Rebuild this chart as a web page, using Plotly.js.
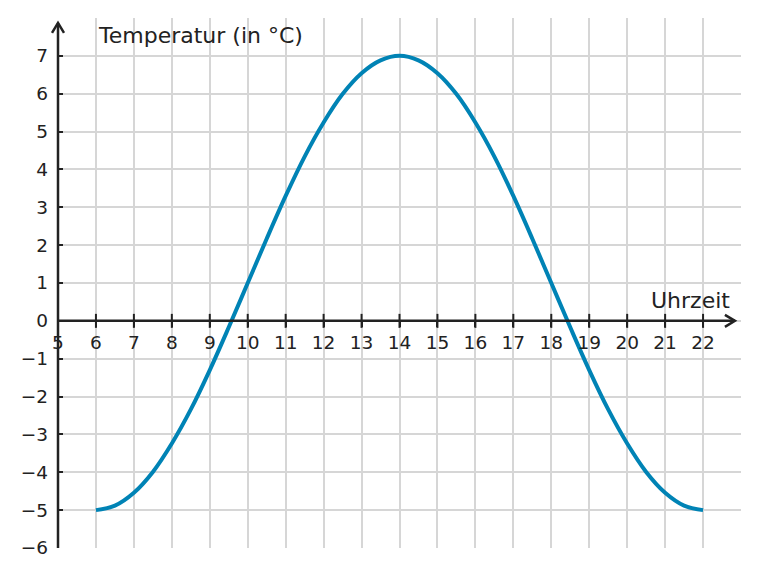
<!DOCTYPE html>
<html>
<head>
<meta charset="utf-8">
<script src="https://cdn.plot.ly/plotly-3.0.1.min.js"></script>
<style>html,body{margin:0;padding:0;background:#fff;}</style>
</head>
<body>
<div id="chart" style="width:759px;height:577px;"></div>
<script>
// Data
const hours = [6, 6.5, 7, 7.5, 8, 8.5, 9, 9.5, 10, 10.5, 11, 11.5, 12, 12.5, 13, 13.5, 14,
               14.5, 15, 15.5, 16, 16.5, 17, 17.5, 18, 18.5, 19, 19.5, 20, 20.5, 21, 21.5, 22];
const temps = [-5, -4.88, -4.54, -3.99, -3.24, -2.34, -1.3, -0.17, 1, 2.17, 3.3, 4.34, 5.24, 5.99, 6.54, 6.88, 7,
               6.88, 6.54, 5.99, 5.24, 4.34, 3.3, 2.17, 1, -0.17, -1.3, -2.34, -3.24, -3.99, -4.54, -4.88, -5];
const xTicks = [5, 6, 7, 8, 9, 10, 11, 12, 13, 14, 15, 16, 17, 18, 19, 20, 21, 22];
const yTicks = [-6, -5, -4, -3, -2, -1, 0, 1, 2, 3, 4, 5, 6, 7];
const yTitle = "Temperatur (in °C)";
const xTitle = "Uhrzeit";

const ink = '#222222';
const gridCol = '#d6d6d6';
const font = 'DejaVu Sans, sans-serif';

const traces = [
  {
    x: xTicks, y: xTicks.map(() => 0), mode: 'markers', type: 'scatter',
    marker: {symbol: 'line-ns', size: 10, line: {color: ink, width: 2}},
    hoverinfo: 'skip', showlegend: false, cliponaxis: false
  },
  {
    x: hours, y: temps, mode: 'lines', type: 'scatter',
    line: {color: '#0083b5', width: 4, shape: 'spline', smoothing: 1},
    hoverinfo: 'skip', showlegend: false
  }
];

// axis arrow geometry (decoration, paper coordinates so nothing is clipped)
const plotW = 683, plotH = 530;
const xMin = 5, xMax = 23, yMin = -6, yMax = 8;
const xTip = 22.84, yTip = 7.87;
const px = v => (v - xMin) / (xMax - xMin);
const py = v => (v - yMin) / (yMax - yMin);
const armLong = 10, armHalf = 6;
const yArrow = `M ${px(5) - armHalf / plotW},${py(yTip) - armLong / plotH} L ${px(5)},${py(yTip)} L ${px(5) + armHalf / plotW},${py(yTip) - armLong / plotH}`;
const xArrow = `M ${px(xTip) - armLong / plotW},${py(0) + armHalf / plotH} L ${px(xTip)},${py(0)} L ${px(xTip) - armLong / plotW},${py(0) - armHalf / plotH}`;

const layout = {
  width: 759, height: 577,
  margin: {l: 58, r: 18, t: 18, b: 29},
  paper_bgcolor: '#fff', plot_bgcolor: '#fff',
  font: {family: font, color: ink, size: 18.5},
  showlegend: false,
  xaxis: {
    range: [xMin, xMax], tickvals: xTicks, ticktext: xTicks.map(String),
    showgrid: true, gridcolor: gridCol, gridwidth: 2,
    zeroline: false, showline: false,
    anchor: 'free', position: py(0),
    ticks: 'outside', ticklen: 5, tickwidth: 2, tickcolor: ink,
    tickfont: {family: font, size: 18.5, color: ink}
  },
  yaxis: {
    range: [yMin, yMax], tickvals: yTicks, ticktext: yTicks.map(v => v < 0 ? '\u2212' + Math.abs(v) : String(v)),
    showgrid: true, gridcolor: gridCol, gridwidth: 2,
    zeroline: false, showline: false,
    ticks: 'inside', ticklen: 5, tickwidth: 2, tickcolor: ink,
    ticklabelstandoff: 9,
    tickfont: {family: font, size: 18.5, color: ink}
  },
  shapes: [
    {type: 'line', xref: 'paper', yref: 'paper', x0: px(5), x1: px(5), y0: py(-6), y1: py(yTip), line: {color: ink, width: 2.5}},
    {type: 'line', xref: 'paper', yref: 'paper', x0: px(5), x1: px(xTip), y0: py(0), y1: py(0), line: {color: ink, width: 2.5}},
    {type: 'path', xref: 'paper', yref: 'paper', path: yArrow, line: {color: ink, width: 2.5}},
    {type: 'path', xref: 'paper', yref: 'paper', path: xArrow, line: {color: ink, width: 2.5}}
  ],
  annotations: [
    {text: yTitle, xref: 'x', yref: 'y', x: 6.0, y: 7.55, xanchor: 'left', yanchor: 'middle',
     showarrow: false, font: {family: font, size: 22, color: ink}},
    {text: xTitle, xref: 'x', yref: 'y', x: 22.76, y: 0.55, xanchor: 'right', yanchor: 'middle',
     showarrow: false, font: {family: font, size: 22, color: ink}}
  ]
};

Plotly.newPlot('chart', traces, layout, {displayModeBar: false, staticPlot: true});
</script>
</body>
</html>
